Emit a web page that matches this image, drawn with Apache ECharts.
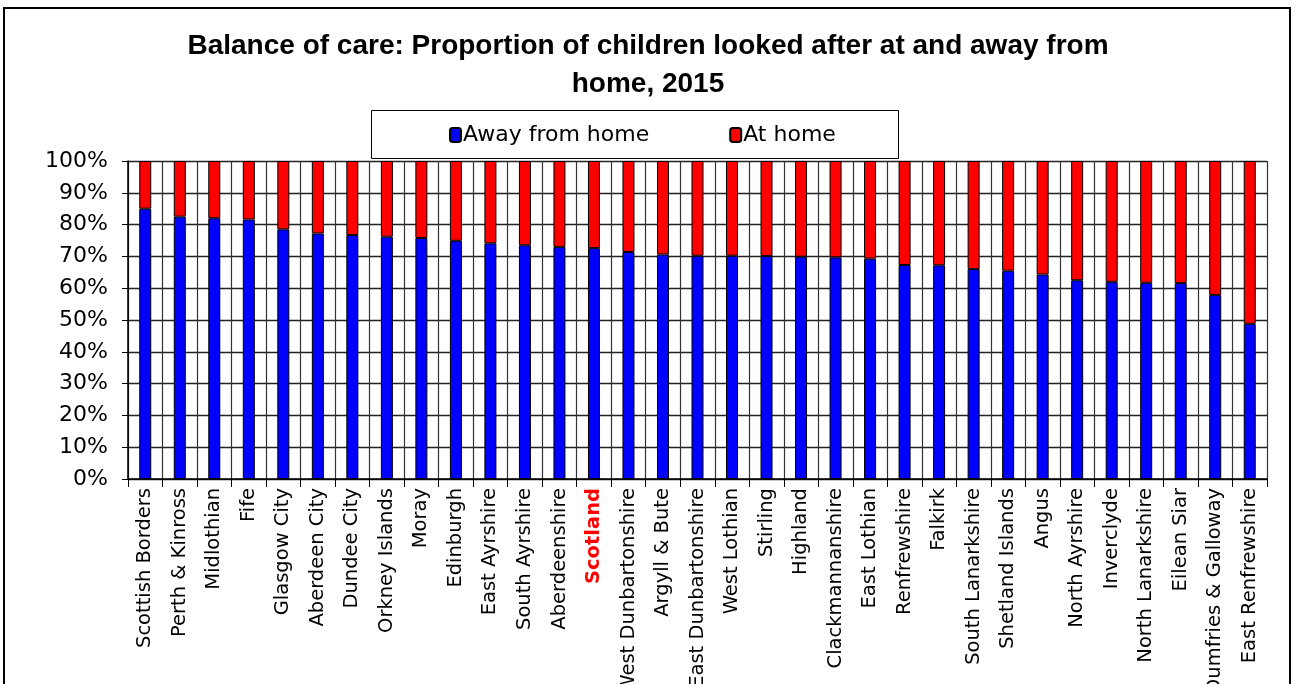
<!DOCTYPE html>
<html>
<head>
<meta charset="utf-8">
<script src="https://cdn.jsdelivr.net/npm/echarts@6/dist/echarts.min.js"></script>
<style>
html,body{margin:0;padding:0;background:#fff;}
#chart{width:1296px;height:684px;}
</style>
</head>
<body>
<div id="chart"></div>
<script>
const categories = ["Scottish Borders","Perth & Kinross","Midlothian","Fife","Glasgow City","Aberdeen City","Dundee City","Orkney Islands","Moray","Edinburgh","East Ayrshire","South Ayrshire","Aberdeenshire","Scotland","West Dunbartonshire","Argyll & Bute","East Dunbartonshire","West Lothian","Stirling","Highland","Clackmannanshire","East Lothian","Renfrewshire","Falkirk","South Lanarkshire","Shetland Islands","Angus","North Ayrshire","Inverclyde","North Lanarkshire","Eilean Siar","Dumfries & Galloway","East Renfrewshire"];
const awayFromHome = [85.0,82.5,82.0,81.6,78.5,77.2,76.7,76.2,75.8,74.9,74.1,73.5,73.0,72.6,71.4,70.6,70.2,70.2,70.1,69.9,69.7,69.3,67.3,67.2,66.0,65.5,64.3,62.5,62.0,61.7,61.6,57.9,48.8];
const atHome = [15.0,17.5,18.0,18.4,21.5,22.8,23.3,23.8,24.2,25.1,25.9,26.5,27.0,27.4,28.6,29.4,29.8,29.8,29.9,30.1,30.3,30.7,32.7,32.8,34.0,34.5,35.7,37.5,38.0,38.3,38.4,42.1,51.2];
const yTicks = [0,10,20,30,40,50,60,70,80,90,100];

const chart = echarts.init(document.getElementById('chart'));
const barBorder = {borderColor:'#000', borderWidth:1};
const fam = '"DejaVu Sans", Verdana, sans-serif';
chart.setOption({
  animation:false,
  backgroundColor:'#fff',
  title:{
    text:'Balance of care: Proportion of children looked after at and away from\nhome, 2015',
    left:'center', top:22,
    textStyle:{fontFamily:'"Liberation Sans", Arial, sans-serif', fontWeight:'bold', fontSize:28, lineHeight:38, color:'#000'}
  },
  legend:{
    left:444, top:119, itemGap:80, itemWidth:11, itemHeight:14,
    textStyle:{fontFamily:fam, fontSize:22, color:'#000', padding:[0,0,0,-3]},
    data:['Away from home','At home']
  },
  grid:{left:128, right:29, top:161, bottom:205, containLabel:false, outerBoundsMode:'none'},
  xAxis:{
    type:'category', data:categories, boundaryGap:true,
    axisLine:{lineStyle:{color:'#000', width:1.5}},
    axisTick:{show:true, interval:0, length:8, lineStyle:{color:'#000'}},
    splitLine:{show:true, interval:0, lineStyle:{color:'#333', width:1.2}},
    axisLabel:{
      interval:0, rotate:90, margin:9, fontSize:19.5, color:'#000',
      fontFamily:fam,
      formatter:function(v){ return v==='Scotland' ? '{s|'+v+'}' : v; },
      rich:{s:{color:'#ff0000', fontWeight:'bold', fontSize:19.5, fontFamily:fam}}
    }
  },
  yAxis:{
    type:'value', min:0, max:100, interval:10,
    axisLine:{show:true, lineStyle:{color:'#000', width:1.5}},
    axisTick:{show:true, length:6, lineStyle:{color:'#000'}},
    splitLine:{show:true, lineStyle:{color:'#222', width:1.3}},
    axisLabel:{formatter:'{value}%', fontSize:22, color:'#000', margin:20, fontFamily:fam}
  },
  series:[
    {name:'Away from home', type:'bar', stack:'t', data:awayFromHome, barWidth:12, itemStyle:Object.assign({color:'#0000ff'}, barBorder)},
    {name:'At home', type:'bar', stack:'t', data:atHome, barWidth:12, itemStyle:Object.assign({color:'#ff0000'}, barBorder)}
  ],
  graphic:[
    {type:'rect', shape:{x:4, y:8, width:1286, height:700}, style:{fill:null, stroke:'#000', lineWidth:2}, z:-1},
    {type:'rect', shape:{x:371.5, y:110.5, width:527, height:48}, style:{fill:'#fff', stroke:'#000', lineWidth:1}, z:-1}
  ]
});
</script>
</body>
</html>
